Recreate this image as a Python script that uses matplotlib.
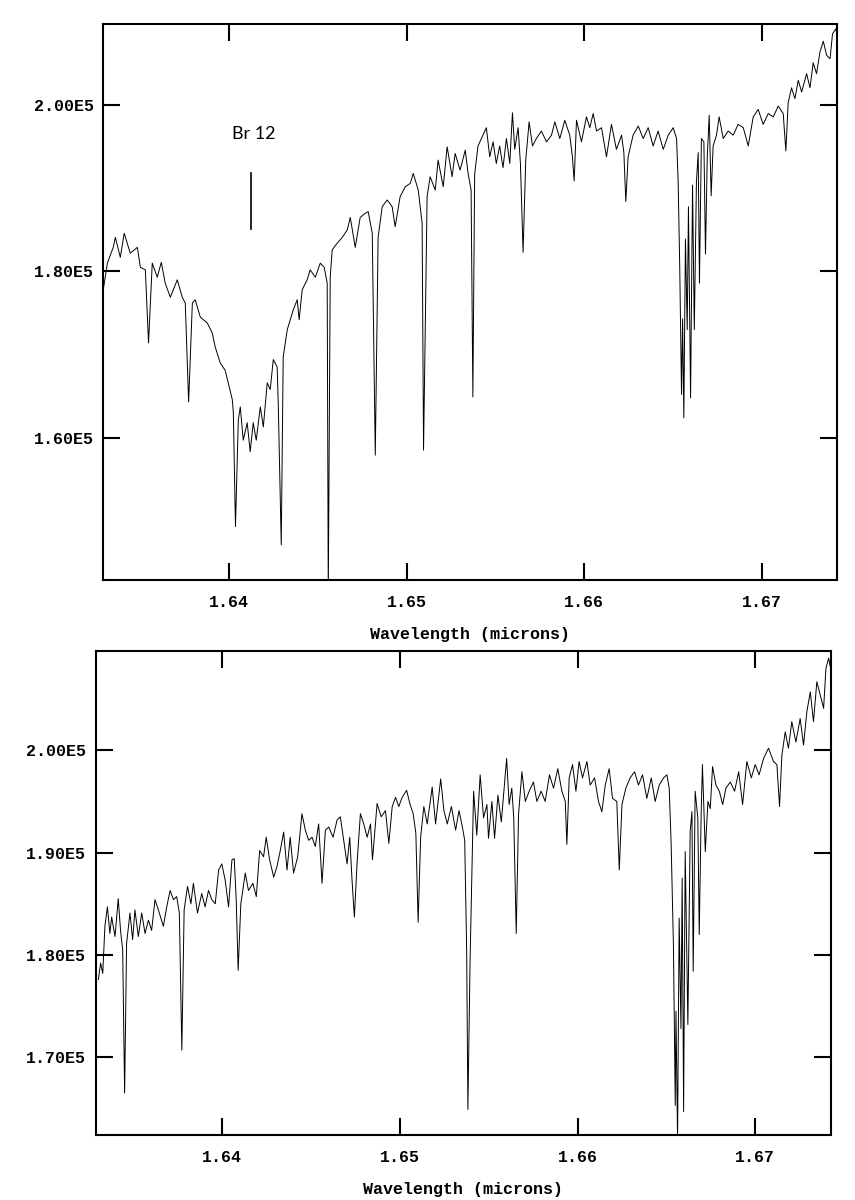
import matplotlib
matplotlib.use("Agg")
import matplotlib.pyplot as plt

# flux values are in units of 1E5 counts, wavelengths in microns
top_wave = [
    1.63290, 1.63313, 1.63346, 1.63358, 1.63386, 1.63408, 1.63442, 1.63482, 1.63499, 1.63527,
    1.63545, 1.63566, 1.63594, 1.63617, 1.63639, 1.63668, 1.63707, 1.63735, 1.63752, 1.63771,
    1.63792, 1.63808, 1.63837, 1.63876, 1.63904, 1.63921, 1.63949, 1.63977, 1.63994, 1.64017,
    1.64023, 1.64035, 1.64051, 1.64062, 1.64079, 1.64101, 1.64118, 1.64135, 1.64152, 1.64175,
    1.64192, 1.64214, 1.64231, 1.64248, 1.64270, 1.64276, 1.64293, 1.64304, 1.64327, 1.64344,
    1.64361, 1.64383, 1.64394, 1.64411, 1.64439, 1.64456, 1.64485, 1.64513, 1.64535, 1.64552,
    1.64558, 1.64569, 1.64580, 1.64608, 1.64637, 1.64665, 1.64682, 1.64710, 1.64738, 1.64766,
    1.64783, 1.64806, 1.64823, 1.64839, 1.64862, 1.64890, 1.64918, 1.64935, 1.64963, 1.64992,
    1.65020, 1.65037, 1.65065, 1.65087, 1.65095, 1.65115, 1.65132, 1.65161, 1.65177, 1.65206,
    1.65228, 1.65256, 1.65273, 1.65301, 1.65330, 1.65346, 1.65363, 1.65373, 1.65383, 1.65402,
    1.65430, 1.65449, 1.65468, 1.65487, 1.65505, 1.65524, 1.65543, 1.65562, 1.65581, 1.65596,
    1.65609, 1.65628, 1.65641, 1.65656, 1.65671, 1.65690, 1.65709, 1.65731, 1.65759, 1.65788,
    1.65816, 1.65835, 1.65863, 1.65891, 1.65919, 1.65934, 1.65944, 1.65957, 1.65985, 1.66013,
    1.66032, 1.66051, 1.66070, 1.66098, 1.66126, 1.66154, 1.66182, 1.66211, 1.66224, 1.66235,
    1.66248, 1.66276, 1.66305, 1.66333, 1.66361, 1.66389, 1.66417, 1.66446, 1.66474, 1.66502,
    1.66521, 1.66530, 1.66539, 1.66549, 1.66555, 1.66562, 1.66571, 1.66581, 1.66588, 1.66600,
    1.66611, 1.66621, 1.66633, 1.66643, 1.66650, 1.66661, 1.66675, 1.66684, 1.66694, 1.66705,
    1.66716, 1.66727, 1.66746, 1.66761, 1.66784, 1.66812, 1.66840, 1.66868, 1.66897, 1.66925,
    1.66953, 1.66981, 1.67009, 1.67038, 1.67066, 1.67094, 1.67122, 1.67137, 1.67150, 1.67169,
    1.67188, 1.67207, 1.67226, 1.67254, 1.67273, 1.67291, 1.67310, 1.67329, 1.67348, 1.67367,
    1.67386, 1.67400, 1.67419, 1.67432,
]
top_flux = [
    1.778, 1.810, 1.829, 1.841, 1.817, 1.846, 1.822, 1.829, 1.805, 1.802,
    1.714, 1.810, 1.793, 1.811, 1.786, 1.769, 1.790, 1.769, 1.762, 1.643,
    1.762, 1.766, 1.745, 1.738, 1.726, 1.709, 1.690, 1.681, 1.666, 1.646,
    1.630, 1.493, 1.621, 1.637, 1.597, 1.618, 1.583, 1.618, 1.597, 1.637,
    1.613, 1.666, 1.658, 1.694, 1.685, 1.642, 1.471, 1.697, 1.730, 1.742,
    1.754, 1.766, 1.742, 1.778, 1.790, 1.802, 1.793, 1.810, 1.805, 1.786,
    1.410, 1.793, 1.826, 1.834, 1.841, 1.850, 1.865, 1.829, 1.865, 1.870,
    1.872, 1.846, 1.579, 1.841, 1.878, 1.886, 1.878, 1.854, 1.890, 1.902,
    1.906, 1.918, 1.898, 1.858, 1.585, 1.890, 1.914, 1.898, 1.934, 1.902,
    1.950, 1.914, 1.942, 1.922, 1.946, 1.918, 1.898, 1.649, 1.917, 1.951,
    1.964, 1.973, 1.938, 1.956, 1.930, 1.951, 1.925, 1.960, 1.930, 1.991,
    1.947, 1.973, 1.930, 1.823, 1.934, 1.980, 1.951, 1.960, 1.969, 1.956,
    1.964, 1.980, 1.960, 1.982, 1.964, 1.938, 1.909, 1.982, 1.956, 1.986,
    1.973, 1.990, 1.969, 1.973, 1.938, 1.977, 1.947, 1.964, 1.943, 1.884,
    1.938, 1.964, 1.975, 1.960, 1.973, 1.951, 1.969, 1.947, 1.964, 1.973,
    1.960, 1.908, 1.804, 1.652, 1.743, 1.624, 1.839, 1.730, 1.878, 1.648,
    1.904, 1.730, 1.908, 1.943, 1.786, 1.960, 1.956, 1.821, 1.938, 1.988,
    1.891, 1.951, 1.964, 1.986, 1.960, 1.969, 1.964, 1.977, 1.973, 1.951,
    1.986, 1.995, 1.977, 1.990, 1.986, 1.999, 1.990, 1.945, 2.003, 2.021,
    2.008, 2.030, 2.016, 2.038, 2.021, 2.051, 2.038, 2.064, 2.077, 2.060,
    2.056, 2.086, 2.092, 2.077,
]

bottom_wave = [
    1.63303, 1.63316, 1.63328, 1.63340, 1.63354, 1.63368, 1.63378, 1.63397, 1.63415, 1.63428,
    1.63440, 1.63451, 1.63462, 1.63481, 1.63496, 1.63509, 1.63528, 1.63547, 1.63566, 1.63585,
    1.63603, 1.63622, 1.63641, 1.63669, 1.63688, 1.63707, 1.63726, 1.63744, 1.63759, 1.63773,
    1.63786, 1.63805, 1.63824, 1.63838, 1.63861, 1.63885, 1.63904, 1.63923, 1.63942, 1.63961,
    1.63980, 1.63998, 1.64017, 1.64036, 1.64055, 1.64068, 1.64079, 1.64090, 1.64105, 1.64130,
    1.64148, 1.64173, 1.64192, 1.64211, 1.64233, 1.64248, 1.64267, 1.64290, 1.64308, 1.64327,
    1.64346, 1.64365, 1.64383, 1.64402, 1.64425, 1.64449, 1.64468, 1.64487, 1.64506, 1.64524,
    1.64543, 1.64562, 1.64581, 1.64600, 1.64624, 1.64647, 1.64665, 1.64684, 1.64703, 1.64718,
    1.64731, 1.64744, 1.64759, 1.64778, 1.64797, 1.64816, 1.64835, 1.64846, 1.64872, 1.64895,
    1.64919, 1.64938, 1.64957, 1.64976, 1.64994, 1.65013, 1.65038, 1.65056, 1.65075, 1.65090,
    1.65103, 1.65117, 1.65135, 1.65154, 1.65182, 1.65201, 1.65230, 1.65248, 1.65267, 1.65290,
    1.65314, 1.65333, 1.65352, 1.65365, 1.65376, 1.65383, 1.65395, 1.65415, 1.65433, 1.65452,
    1.65471, 1.65490, 1.65499, 1.65518, 1.65533, 1.65552, 1.65571, 1.65590, 1.65601, 1.65615,
    1.65630, 1.65641, 1.65655, 1.65668, 1.65687, 1.65706, 1.65728, 1.65752, 1.65771, 1.65795,
    1.65818, 1.65842, 1.65865, 1.65889, 1.65912, 1.65931, 1.65940, 1.65953, 1.65972, 1.65991,
    1.66009, 1.66028, 1.66053, 1.66071, 1.66096, 1.66118, 1.66137, 1.66156, 1.66178, 1.66197,
    1.66221, 1.66235, 1.66250, 1.66272, 1.66296, 1.66321, 1.66343, 1.66366, 1.66390, 1.66415,
    1.66437, 1.66460, 1.66484, 1.66503, 1.66516, 1.66527, 1.66540, 1.66550, 1.66554, 1.66563,
    1.66572, 1.66582, 1.66589, 1.66597, 1.66606, 1.66621, 1.66634, 1.66644, 1.66651, 1.66662,
    1.66677, 1.66685, 1.66696, 1.66703, 1.66719, 1.66734, 1.66747, 1.66760, 1.66779, 1.66798,
    1.66817, 1.66835, 1.66860, 1.66884, 1.66907, 1.66929, 1.66953, 1.66978, 1.67000, 1.67022,
    1.67047, 1.67075, 1.67103, 1.67122, 1.67137, 1.67150, 1.67169, 1.67187, 1.67206, 1.67229,
    1.67253, 1.67272, 1.67291, 1.67310, 1.67328, 1.67347, 1.67366, 1.67385, 1.67398, 1.67413,
    1.67428,
]
bottom_flux = [
    1.776, 1.792, 1.782, 1.828, 1.847, 1.821, 1.837, 1.818, 1.855, 1.824,
    1.805, 1.665, 1.811, 1.841, 1.815, 1.844, 1.818, 1.841, 1.821, 1.834,
    1.824, 1.854, 1.844, 1.828, 1.847, 1.863, 1.854, 1.857, 1.841, 1.707,
    1.844, 1.867, 1.850, 1.870, 1.841, 1.860, 1.847, 1.863, 1.854, 1.850,
    1.883, 1.889, 1.873, 1.847, 1.893, 1.894, 1.854, 1.785, 1.850, 1.880,
    1.863, 1.870, 1.857, 1.902, 1.896, 1.915, 1.893, 1.876, 1.886, 1.902,
    1.920, 1.883, 1.915, 1.880, 1.896, 1.938, 1.922, 1.912, 1.915, 1.906,
    1.928, 1.870, 1.922, 1.925, 1.915, 1.932, 1.935, 1.912, 1.889, 1.915,
    1.873, 1.837, 1.889, 1.938, 1.928, 1.915, 1.928, 1.893, 1.948, 1.935,
    1.941, 1.909, 1.945, 1.954, 1.945, 1.954, 1.961, 1.948, 1.938, 1.919,
    1.832, 1.915, 1.945, 1.928, 1.964, 1.928, 1.972, 1.941, 1.928, 1.945,
    1.922, 1.941, 1.925, 1.912, 1.805, 1.649, 1.792, 1.960, 1.917, 1.976,
    1.934, 1.947, 1.914, 1.950, 1.914, 1.956, 1.930, 1.969, 1.992, 1.947,
    1.963, 1.934, 1.821, 1.937, 1.979, 1.950, 1.960, 1.969, 1.950, 1.960,
    1.950, 1.976, 1.963, 1.982, 1.960, 1.950, 1.908, 1.973, 1.986, 1.960,
    1.989, 1.973, 1.989, 1.966, 1.973, 1.950, 1.940, 1.966, 1.982, 1.953,
    1.950, 1.883, 1.947, 1.963, 1.973, 1.979, 1.966, 1.976, 1.953, 1.973,
    1.950, 1.966, 1.973, 1.976, 1.963, 1.908, 1.807, 1.653, 1.745, 1.620,
    1.836, 1.728, 1.875, 1.647, 1.901, 1.732, 1.921, 1.940, 1.784, 1.960,
    1.934, 1.820, 1.940, 1.986, 1.901, 1.950, 1.943, 1.984, 1.966, 1.960,
    1.947, 1.963, 1.969, 1.960, 1.979, 1.947, 1.989, 1.973, 1.986, 1.976,
    1.992, 2.002, 1.989, 1.986, 1.945, 1.995, 2.018, 2.002, 2.028, 2.008,
    2.031, 2.005, 2.038, 2.057, 2.028, 2.067, 2.054, 2.041, 2.080, 2.090,
    2.077,
]

x_ticks = [1.64, 1.65, 1.66, 1.67]
x_tick_labels = ["1.64", "1.65", "1.66", "1.67"]
top_y_ticks = [1.6, 1.8, 2.0]
top_y_labels = ["1.60E5", "1.80E5", "2.00E5"]
bottom_y_ticks = [1.7, 1.8, 1.9, 2.0]
bottom_y_labels = ["1.70E5", "1.80E5", "1.90E5", "2.00E5"]
x_label = "Wavelength (microns)"

br12_label = "Br 12"
br12_wave = 1.6412
br12_mark = (1.851, 1.918)
br12_text_flux = 1.9655

plt.rcParams["font.family"] = ["Liberation Mono", "DejaVu Sans Mono"]
plt.rcParams["font.weight"] = "bold"

fig = plt.figure(figsize=(8.55, 12), dpi=100)
ax_top = fig.add_axes([0.1208, 0.5167, 0.8581, 0.4629])
ax_bot = fig.add_axes([0.1123, 0.0542, 0.8593, 0.4033])


def style(ax, yticks, ylabels):
    ax.set_xticks(x_ticks)
    ax.set_xticklabels(x_tick_labels)
    ax.set_yticks(yticks)
    ax.set_yticklabels(ylabels)
    for s in ax.spines.values():
        s.set_linewidth(1.5)
    ax.tick_params(direction="in", length=12, width=1.5, top=True, right=True,
                   labelsize=12, colors="black")
    ax.tick_params(axis="x", pad=11)
    ax.tick_params(axis="y", pad=7)
    ax.set_xlabel(x_label, fontsize=12, fontweight="bold", labelpad=12)
    ax.minorticks_off()


ax_top.plot(top_wave, top_flux, color="black", lw=0.7)
ax_top.set_xlim(1.6329, 1.67425)
ax_top.set_ylim(1.4288, 2.0972)
style(ax_top, top_y_ticks, top_y_labels)

ax_top.plot([br12_wave, br12_wave], br12_mark, color="black", lw=1.2)
ax_top.text(br12_wave + 0.0002, br12_text_flux, br12_label, ha="center", va="center",
            fontsize=13, fontweight="normal", family=["Lato", "DejaVu Sans"])

ax_bot.plot(bottom_wave, bottom_flux, color="black", lw=0.7)
ax_bot.set_xlim(1.6329, 1.67425)
ax_bot.set_ylim(1.6241, 2.097)
style(ax_bot, bottom_y_ticks, bottom_y_labels)

fig.savefig("out.png", dpi=100)
